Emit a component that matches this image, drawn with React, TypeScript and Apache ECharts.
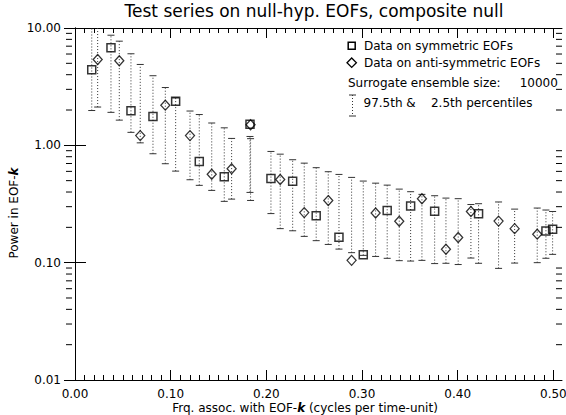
import React, { useEffect, useRef } from "react";
import * as echarts from "echarts";

const FONT = "DejaVu Sans";

// Symmetric EOFs (squares)
const symX = [0.0175, 0.0376, 0.0585, 0.0815, 0.1052, 0.1299, 0.156, 0.1829, 0.2048, 0.2275, 0.2521, 0.2759, 0.3013, 0.3263, 0.3508, 0.3759, 0.4218, 0.4922, 0.4992];
const symY = [4.41, 6.78, 1.97, 1.76, 2.38, 0.729, 0.54, 1.51, 0.522, 0.493, 0.251, 0.165, 0.117, 0.279, 0.304, 0.274, 0.261, 0.186, 0.193];
const symHi = [13, 8.68, 6.03, 3.92, 2.53, 1.83, 1.41, 1.19, 0.887, 0.754, 0.645, 0.565, 0.496, 0.458, 0.4025, 0.372, 0.318, 0.281, 0.273];
const symLo = [1.98, 1.91, 1.29, 0.848, 0.603, 0.456, 0.333, 0.397, 0.262, 0.187, 0.154, 0.1305, 0.1154, 0.1089, 0.1032, 0.0982, 0.0988, 0.109, 0.1177];

// Anti-symmetric EOFs (diamonds)
const antiX = [0.0237, 0.0463, 0.0682, 0.0944, 0.1202, 0.1429, 0.1637, 0.1835, 0.2145, 0.2396, 0.2647, 0.2891, 0.3142, 0.3389, 0.3626, 0.3877, 0.4005, 0.4138, 0.4427, 0.4595, 0.4831];
const antiY = [5.39, 5.26, 1.21, 2.2, 1.21, 0.567, 0.632, 1.5, 0.512, 0.267, 0.338, 0.1046, 0.265, 0.225, 0.351, 0.13, 0.164, 0.273, 0.226, 0.195, 0.175];
const antiHi = [14, 7.72, 4.89, 3.11, 1.96, 1.55, 1.145, 1.14, 0.841, 0.705, 0.596, 0.533, 0.476, 0.4235, 0.382, 0.355, 0.351, 0.313, 0.329, 0.286, 0.292];
const antiLo = [2.12, 1.64, 1.05, 0.697, 0.509, 0.413, 0.348, 0.339, 0.195, 0.1675, 0.143, 0.1217, 0.113, 0.104, 0.1046, 0.0988, 0.0964, 0.1095, 0.0894, 0.0992, 0.1];

// Tick values
const X_MAJOR = [0, 0.1, 0.2, 0.3, 0.4, 0.5];
const X_MINOR = [0, 0.01, 0.02, 0.03, 0.04, 0.05, 0.06, 0.07, 0.08, 0.09, 0.1, 0.11, 0.12, 0.13, 0.14, 0.15, 0.16, 0.17, 0.18, 0.19, 0.2, 0.21, 0.22, 0.23, 0.24, 0.25, 0.26, 0.27, 0.28, 0.29, 0.3, 0.31, 0.32, 0.33, 0.34, 0.35, 0.36, 0.37, 0.38, 0.39, 0.4, 0.41, 0.42, 0.43, 0.44, 0.45, 0.46, 0.47, 0.48, 0.49, 0.5];
const Y_MINOR = [0.02, 0.03, 0.04, 0.05, 0.06, 0.07, 0.08, 0.09, 0.2, 0.3, 0.4, 0.5, 0.6, 0.7, 0.8, 0.9, 2, 3, 4, 5, 6, 7, 8, 9];

const XMIN = -0.0094;
const XMAX = 0.509;

const BAR_COLOR = "#333";

function errBarRender(params: any, api: any) {
  const x = api.value(0);
  const lo = api.value(2);
  const hi = api.value(3);
  const pLo = api.coord([x, lo]);
  const pHi = api.coord([x, hi]);
  const hw = 3.5;
  return {
    type: "group",
    children: [
      { type: "line", shape: { x1: pLo[0], y1: pLo[1], x2: pHi[0], y2: pHi[1] }, style: { stroke: BAR_COLOR, lineWidth: 1, lineDash: [1, 2] } },
      { type: "line", shape: { x1: pLo[0] - hw, y1: pLo[1], x2: pLo[0] + hw, y2: pLo[1] }, style: { stroke: BAR_COLOR, lineWidth: 1 } },
      { type: "line", shape: { x1: pHi[0] - hw, y1: pHi[1], x2: pHi[0] + hw, y2: pHi[1] }, style: { stroke: BAR_COLOR, lineWidth: 1 } },
    ],
  };
}

export default function App() {
  const ref = useRef<HTMLDivElement>(null);
  useEffect(() => {
    if (!ref.current) return;
    const chart = echarts.init(ref.current, null, { renderer: "svg" });
    const xCommon = { type: "value", min: XMIN, max: XMAX, splitLine: { show: false } };
    const symData = symX.map((x, i) => [x, symY[i], symLo[i], symHi[i]]);
    const antiData = antiX.map((x, i) => [x, antiY[i], antiLo[i], antiHi[i]]);
    const txt = { fontFamily: FONT, fontSize: 12, color: "#000" };
    const kStyle = { fontFamily: FONT, fontSize: 12, fontWeight: "bold", fontStyle: "italic", color: "#000" };
    chart.setOption({
      animation: false,
      backgroundColor: "#fff",
      title: {
        text: "Test series on null-hyp. EOFs, composite null",
        left: 314,
        top: 2,
        textAlign: "center",
        padding: 0,
        textStyle: { fontFamily: FONT, fontSize: 17, fontWeight: "normal", color: "#000" },
      },
      grid: { left: 66, right: 4, top: 28, bottom: 35, containLabel: false, outerBoundsMode: "none" },
      xAxis: [
        {
          ...xCommon,
          position: "bottom",
          axisLine: { show: true, onZero: false, lineStyle: { color: "#000", width: 1 } },
          axisTick: { show: true, inside: true, length: 10, customValues: X_MAJOR, lineStyle: { color: "#000" } },
          axisLabel: { customValues: X_MAJOR, formatter: (v: number) => v.toFixed(2), ...txt, lineHeight: 13, margin: 7 },
          name: "Frq. assoc. with EOF-{k|k} (cycles per time-unit)",
          nameLocation: "middle",
          nameGap: 21,
          nameMoveOverlap: false,
          nameTextStyle: { ...txt, lineHeight: 13, padding: [0, 18, 0, 0], rich: { k: { ...kStyle, lineHeight: 13 } } },
        },
        {
          ...xCommon,
          position: "bottom",
          axisLine: { show: false, onZero: false },
          axisTick: { show: true, inside: true, length: 5, customValues: X_MINOR, lineStyle: { color: "#000" } },
          axisLabel: { show: false },
        },
        {
          ...xCommon,
          position: "top",
          axisLine: { show: true, onZero: false, lineStyle: { color: "#000", width: 1 } },
          axisTick: { show: true, inside: true, length: 10, customValues: X_MAJOR, lineStyle: { color: "#000" } },
          axisLabel: { show: false },
        },
        {
          ...xCommon,
          position: "top",
          axisLine: { show: false, onZero: false },
          axisTick: { show: true, inside: true, length: 5, customValues: X_MINOR, lineStyle: { color: "#000" } },
          axisLabel: { show: false },
        },
      ],
      yAxis: [
        {
          type: "log",
          logBase: 10,
          min: 0.01,
          max: 10,
          position: "left",
          splitLine: { show: false },
          axisLine: { show: true, lineStyle: { color: "#000", width: 1 } },
          axisTick: { show: true, inside: true, length: 11, lineStyle: { color: "#000" } },
          axisLabel: { formatter: (v: number) => v.toFixed(2), ...txt, margin: 5 },
          name: "Power in EOF-{k|k}",
          nameLocation: "middle",
          nameGap: 45,
          nameMoveOverlap: false,
          nameTextStyle: { ...txt, lineHeight: 14, padding: [0, 18, 0, 0], rich: { k: { ...kStyle, lineHeight: 14 } } },
        },
        {
          type: "log",
          logBase: 10,
          min: 0.01,
          max: 10,
          position: "right",
          splitLine: { show: false },
          axisLine: { show: true, lineStyle: { color: "#000", width: 1 } },
          axisTick: { show: true, inside: true, length: 11, lineStyle: { color: "#000" } },
          axisLabel: { show: false },
        },
      ],
      graphic: [
        { type: "rect", shape: { x: 348.2, y: 42.2, width: 7, height: 7 }, style: { fill: "none", stroke: "#000", lineWidth: 1.5 } },
        { type: "polygon", shape: { points: [[351.7, 58], [356.4, 62.7], [351.7, 67.4], [347, 62.7]] }, style: { fill: "none", stroke: "#000", lineWidth: 1.3 } },
        { type: "text", x: 364, y: 46, style: { text: "Data on symmetric EOFs", font: `12px "${FONT}"`, fill: "#000", verticalAlign: "middle" } },
        { type: "text", x: 364, y: 62.5, style: { text: "Data on anti-symmetric EOFs", font: `12px "${FONT}"`, fill: "#000", verticalAlign: "middle" } },
        { type: "text", x: 348, y: 83, style: { text: "Surrogate ensemble size:     10000", font: `12px "${FONT}"`, fill: "#000", verticalAlign: "middle" } },
        { type: "line", shape: { x1: 352.5, y1: 95, x2: 352.5, y2: 116 }, style: { stroke: BAR_COLOR, lineWidth: 1, lineDash: [1, 2] } },
        { type: "line", shape: { x1: 349, y1: 95, x2: 356, y2: 95 }, style: { stroke: BAR_COLOR, lineWidth: 1 } },
        { type: "line", shape: { x1: 349, y1: 116, x2: 356, y2: 116 }, style: { stroke: BAR_COLOR, lineWidth: 1 } },
        { type: "text", x: 363.5, y: 103, style: { text: "97.5th &    2.5th percentiles", font: `12px "${FONT}"`, fill: "#000", verticalAlign: "middle" } },
      ],
      series: [
        {
          type: "custom",
          name: "yMinorTicks",
          xAxisIndex: 0,
          yAxisIndex: 0,
          silent: true,
          clip: false,
          data: Y_MINOR.map((v) => [0, v]),
          renderItem: (params: any, api: any) => {
            const cs = params.coordSys;
            const y = api.coord([0, api.value(1)])[1];
            return {
              type: "group",
              children: [
                { type: "line", shape: { x1: cs.x, y1: y, x2: cs.x + 6, y2: y }, style: { stroke: "#000", lineWidth: 1 } },
                { type: "line", shape: { x1: cs.x + cs.width - 6, y1: y, x2: cs.x + cs.width, y2: y }, style: { stroke: "#000", lineWidth: 1 } },
              ],
            };
          },
        },
        {
          type: "custom",
          name: "Symmetric percentiles",
          xAxisIndex: 0,
          yAxisIndex: 0,
          silent: true,
          clip: true,
          data: symData,
          renderItem: errBarRender,
        },
        {
          type: "custom",
          name: "Anti-symmetric percentiles",
          xAxisIndex: 0,
          yAxisIndex: 0,
          silent: true,
          clip: true,
          data: antiData,
          renderItem: errBarRender,
        },
        {
          type: "scatter",
          name: "Data on symmetric EOFs",
          xAxisIndex: 0,
          yAxisIndex: 0,
          symbol: "rect",
          symbolSize: 8,
          data: symX.map((x, i) => [x, symY[i]]),
          itemStyle: { color: "rgba(0,0,0,0)", borderColor: "#000", borderWidth: 1.5 },
          z: 5,
        },
        {
          type: "scatter",
          name: "Data on anti-symmetric EOFs",
          xAxisIndex: 0,
          yAxisIndex: 0,
          symbol: "diamond",
          symbolSize: [9, 10],
          data: antiX.map((x, i) => [x, antiY[i]]),
          itemStyle: { color: "rgba(0,0,0,0)", borderColor: "#000", borderWidth: 1.3 },
          z: 5,
        },
      ],
    });
    return () => chart.dispose();
  }, []);
  return <div ref={ref} style={{ position: "absolute", left: 0, top: 0, width: 566, height: 415 }} />;
}
